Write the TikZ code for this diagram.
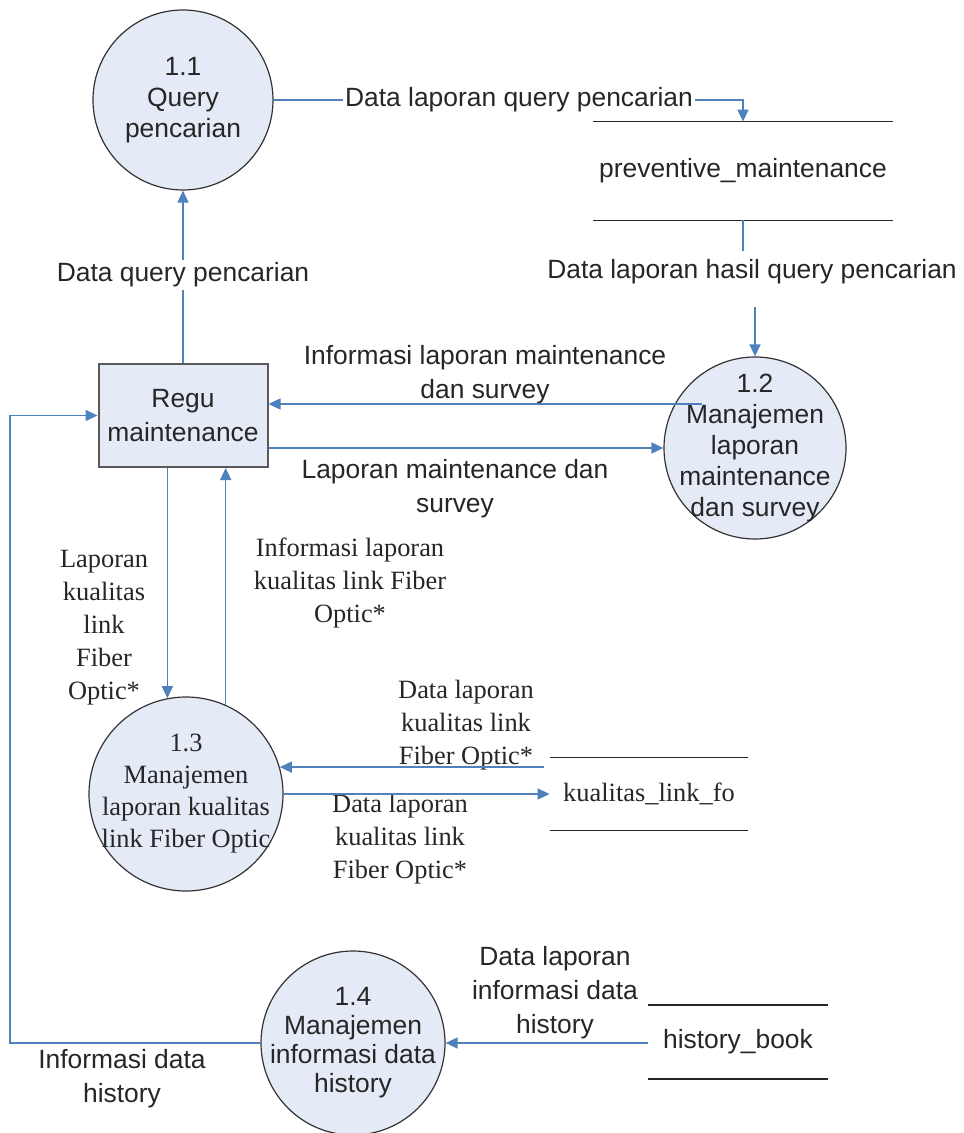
\documentclass[tikz,border=0pt]{standalone}
\usepackage{fontspec}
\setmainfont{Liberation Sans}
\newfontfamily\timesfont{Liberation Serif}
\usetikzlibrary{arrows.meta}

\definecolor{procfill}{RGB}{228,234,246}
\definecolor{flowblue}{RGB}{79,129,189}

\tikzset{
  proc/.style={circle,draw=black!80,line width=0.6pt,fill=procfill,inner sep=0pt,
    align=center,text=black!85,font=\fontsize{13.2}{15.5}\selectfont},
  entity/.style={rectangle,draw=black!65,line width=1pt,fill=procfill,
    minimum width=84.5pt,minimum height=51.5pt,align=center,text=black!85,
    font=\fontsize{13.2}{17}\selectfont},
  datastore/.style={inner sep=0pt,text=black!85,font=\fontsize{13.2}{16}\selectfont},
  storeline/.style={draw=black!85,line width=0.75pt},
  pipe/.style={draw=flowblue,line width=0.8pt},
  flow/.style={pipe,-{Triangle[length=6pt,width=5.5pt]}},
  lbl/.style={align=center,inner sep=1pt,text=black!85,font=\fontsize{13.2}{17}\selectfont},
  tlbl/.style={lbl,font=\timesfont\fontsize{13.2}{16.5}\selectfont}
}

\begin{document}
\begin{tikzpicture}[x=0.5pt,y=-0.5pt]
        \useasboundingbox (0,0) rectangle (963,1133) ;
        %\draw[very thin,gray,step=50] (0,0) grid (963,1133) ;

        % processes and entity
        \node[proc,minimum size=90pt] (q11) at (183,100) {1.1\\Query\\pencarian} ;
        \node[proc,minimum size=91pt,inner sep=-6pt] (m12) at (755,448)
        {1.2\\Manajemen\\laporan\\maintenance\\dan survey} ;
        \node[proc,minimum size=97pt,inner sep=-4pt,font=\timesfont\fontsize{13.2}{16}\selectfont]
        (m13) at (186,794) {1.3\\Manajemen\\laporan kualitas\\link Fiber Optic} ;
        \node[proc,minimum size=92pt,inner sep=-5pt,font=\fontsize{13.2}{14.5}\selectfont]
        (m14) at (353,1043) {1.4\\Manajemen\\informasi data\\history} ;
        \node[entity] (regu) at (183,415.5) {Regu\\maintenance} ;

        % data stores
        \node[datastore,minimum width=149.5pt,minimum height=49pt] (pm) at (743,171)
        {preventive\_maintenance} ;
        \node[datastore,minimum width=99pt,minimum height=36pt,font=\timesfont\fontsize{13.2}{16}\selectfont]
        (kl) at (649,794) {kualitas\_link\_fo} ;
        \node[datastore,minimum width=90pt,minimum height=36.5pt] (hb) at (738,1042) {history\_book} ;
        \foreach \s in {pm,kl,hb}
          \draw[storeline] (\s.north west) -- (\s.north east)
                           (\s.south west) -- (\s.south east) ;

        % flow labels
        \node[lbl] (lq) at (519,100) {Data laporan query pencarian} ;
        \node[lbl] (ldq) at (183,275) {Data query pencarian} ;
        \node[lbl] (lhq) at (752,272) {Data laporan hasil query pencarian} ;
        \node[lbl] (lim) at (485,375) {Informasi laporan maintenance\\dan survey} ;
        \node[lbl] (llm) at (455,489) {Laporan maintenance dan\\survey} ;
        \node[tlbl] (ll) at (104,628) {Laporan\\kualitas\\link\\Fiber\\Optic*} ;
        \node[tlbl] (lil) at (350,583) {Informasi laporan\\kualitas link Fiber\\Optic*} ;
        \node[tlbl] (ldk1) at (466,725) {Data laporan\\kualitas link\\Fiber Optic*} ;
        \node[tlbl] (ldk2) at (400,839) {Data laporan\\kualitas link\\Fiber Optic*} ;
        \node[lbl] (lih) at (555,993) {Data laporan\\informasi data\\history} ;
        \node[lbl] (lidh) at (122,1079) {Informasi data\\history} ;

        % flows
        \draw[pipe] (regu.north) -- (ldq.south) ;
        \draw[flow] (ldq.north) -- (q11.south) ;
        \draw[pipe] (q11.east) -- (lq.west) ;
        \draw[flow] (lq.east) -| (pm.north) ;
        \draw[pipe] (pm.south) -- ([yshift=3pt]pm.south |- lhq.north) ;
        \draw[flow] ([yshift=-10pt]m12.north |- lhq.south) -- (m12.north) ;
        \coordinate (m12in) at (702,404) ;
        \draw[flow] (m12in) -- (m12in -| regu.east) ;
        \draw[flow] (regu.east |- m12.west) -- (m12.west) ;
        \draw[flow] (regu.south -| m13.101) -- (m13.101) ;
        \draw[flow] (m13.66) -- (m13.66 |- regu.south) ;
        \draw[flow] ([xshift=-3pt]kl.west |- m13.16) -- (m13.16) ;
        \draw[flow] (m13.east) -- (kl.west) ;
        \draw[flow] (hb.west |- m14.east) -- (m14.east) ;
        \coordinate (rail) at (10,1043) ;
        \draw[flow] (m14.west) -- (rail) |- (regu.west) ;
\end{tikzpicture}
\end{document}
